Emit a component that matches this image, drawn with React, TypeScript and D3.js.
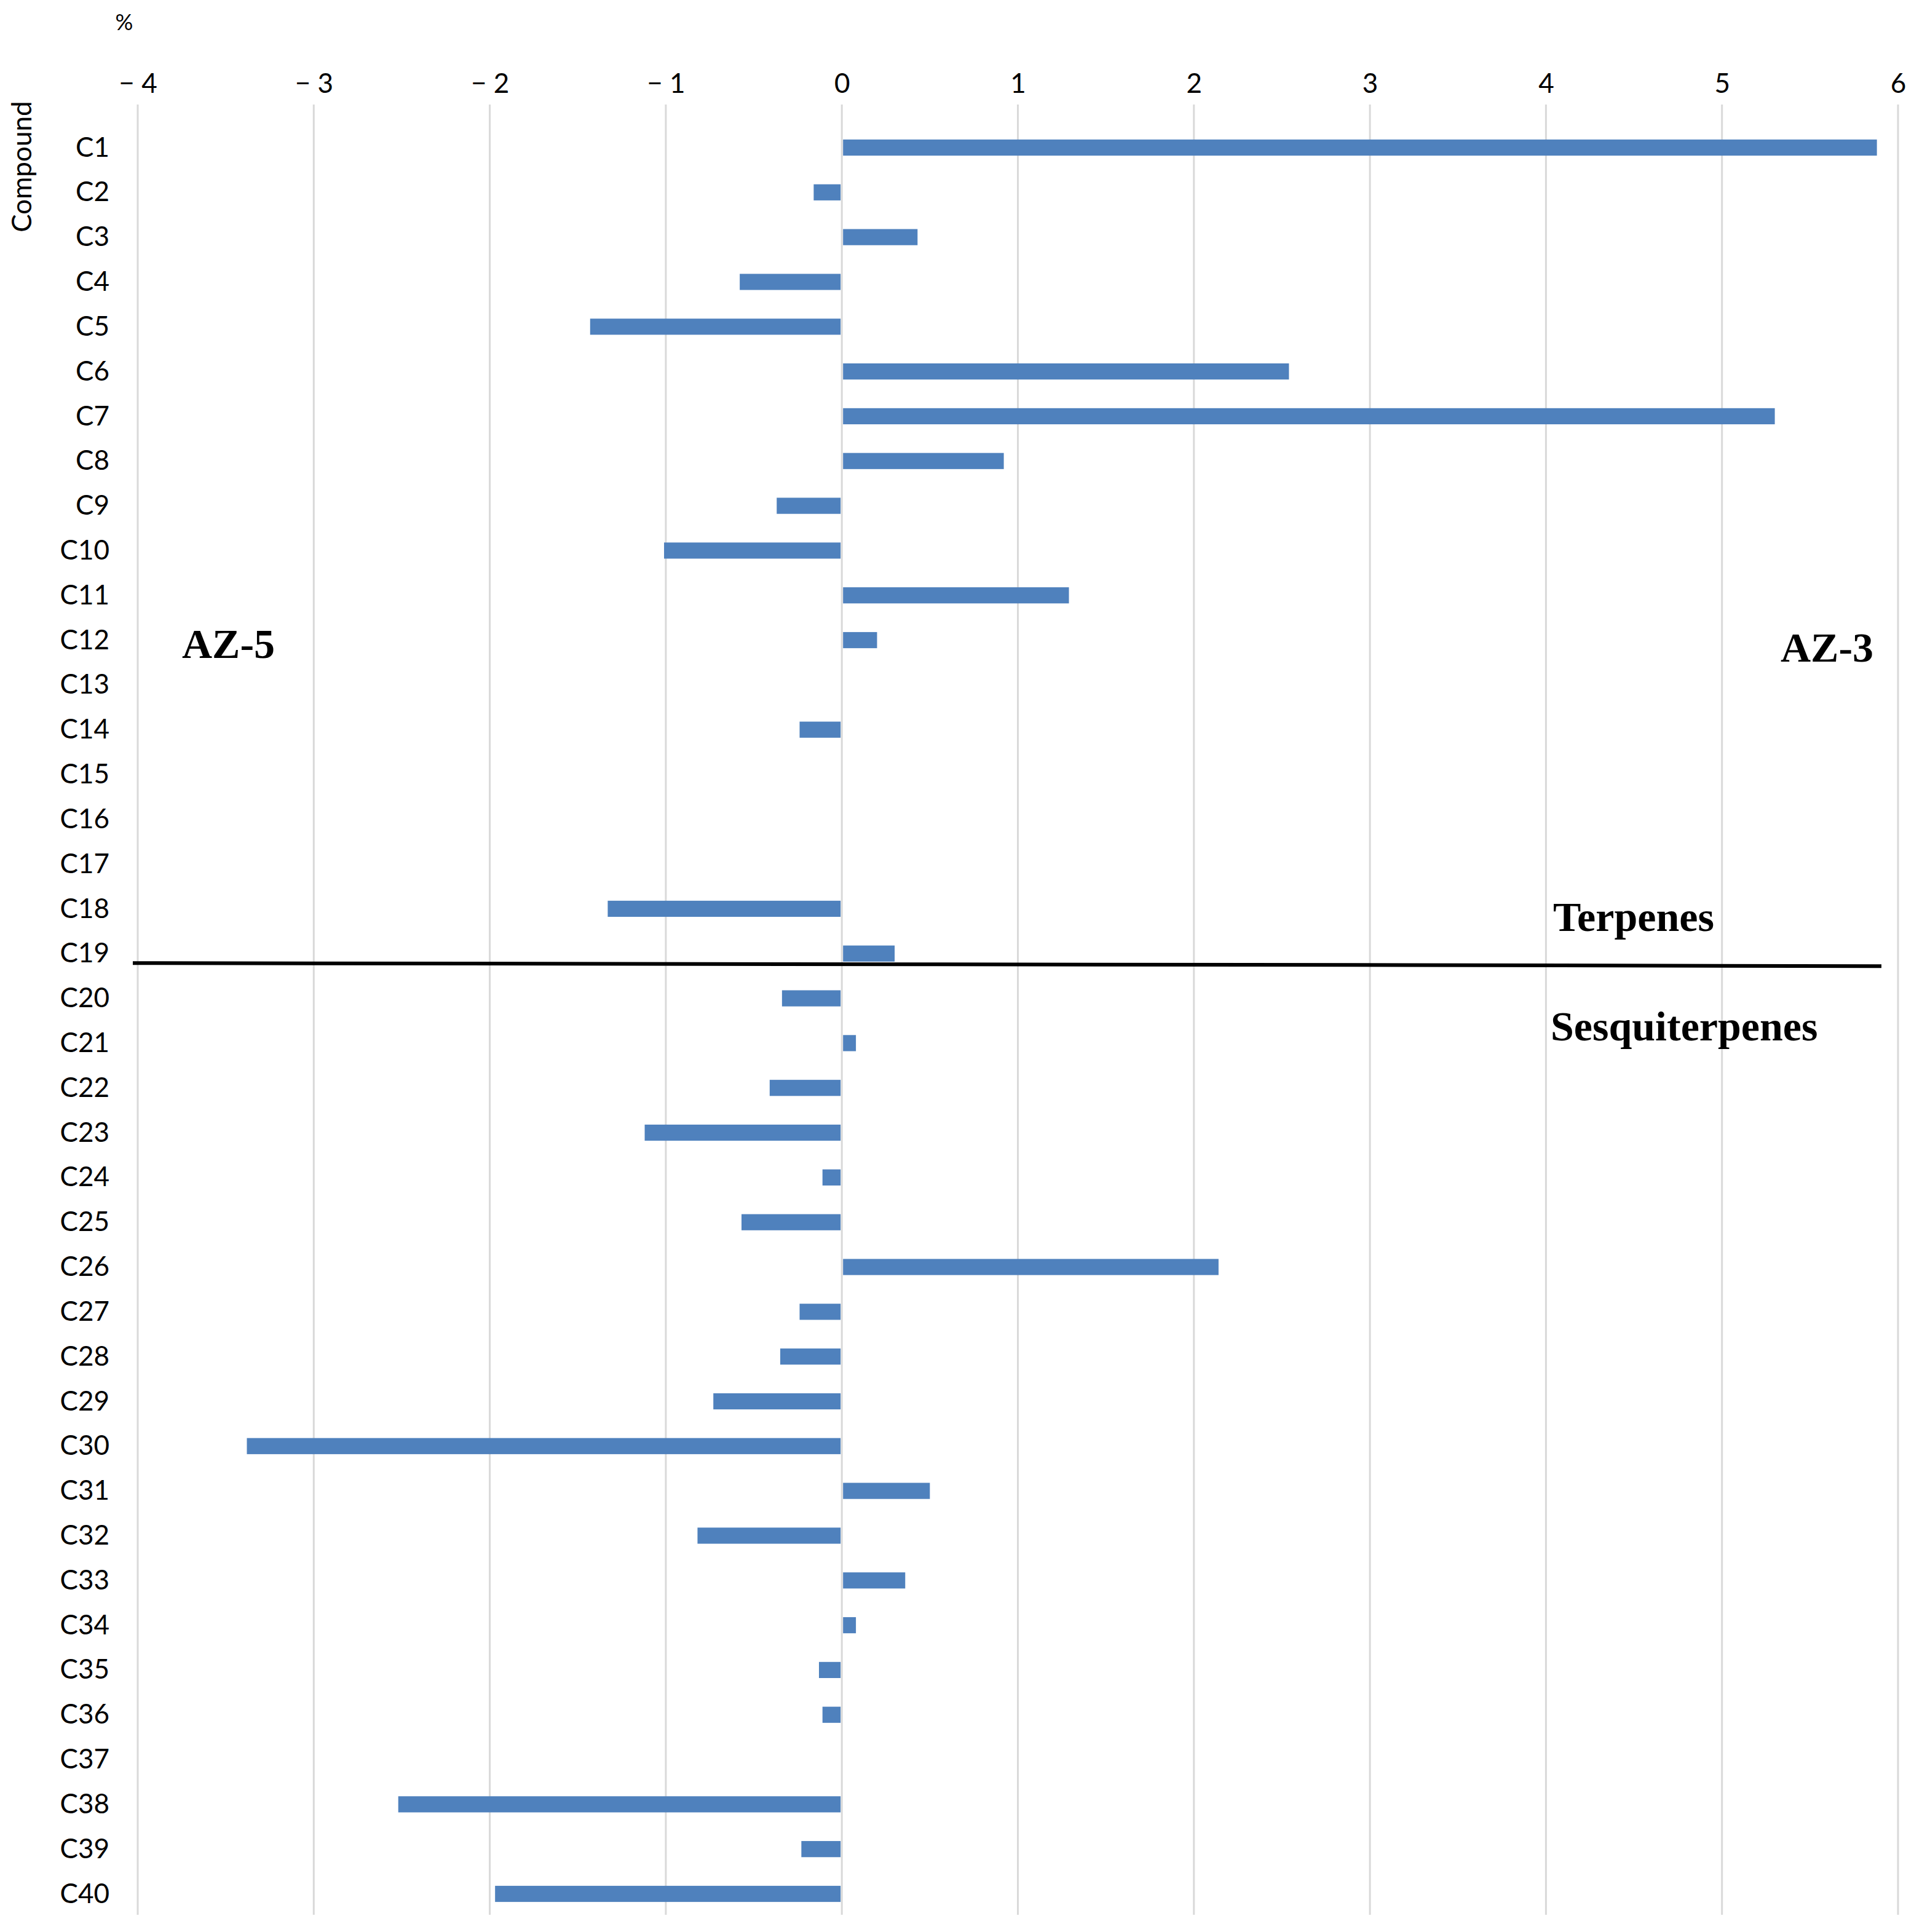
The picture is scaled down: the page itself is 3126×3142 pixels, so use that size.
import { useRef, useEffect } from 'react';
import * as d3 from 'd3';

const compounds = [
  'C1', 'C2', 'C3', 'C4', 'C5', 'C6', 'C7', 'C8', 'C9', 'C10',
  'C11', 'C12', 'C13', 'C14', 'C15', 'C16', 'C17', 'C18', 'C19', 'C20',
  'C21', 'C22', 'C23', 'C24', 'C25', 'C26', 'C27', 'C28', 'C29', 'C30',
  'C31', 'C32', 'C33', 'C34', 'C35', 'C36', 'C37', 'C38', 'C39', 'C40',
];

// difference in % (AZ-3 positive, AZ-5 negative)
const values = [
  5.88, -0.16, 0.43, -0.58, -1.43, 2.54, 5.3, 0.92, -0.37, -1.01,
  1.29, 0.2, 0, -0.24, 0, 0, 0, -1.33, 0.3, -0.34,
  0.08, -0.41, -1.12, -0.11, -0.57, 2.14, -0.24, -0.35, -0.73, -3.38,
  0.5, -0.82, 0.36, 0.08, -0.13, -0.11, 0, -2.52, -0.23, -1.97,
];

const xTicks = [-4, -3, -2, -1, 0, 1, 2, 3, 4, 5, 6];

const W = 3126;
const H = 3142;

const App = () => {
  const ref = useRef(null);

  useEffect(() => {
    const svg = d3.select(ref.current);
    svg.selectAll('*').remove();

    const x = d3.scaleLinear().domain([-4, 6]).range([224, 3087]);
    const y = d3.scalePoint().domain(compounds).range([240, 3080]);
    const barH = y.step() * 0.36;
    const gridTop = 170;
    const gridBottom = 3114;
    const sans = 'Lato, "Noto Sans", sans-serif';

    svg.append('rect').attr('width', W).attr('height', H).attr('fill', '#fff');

    // vertical gridlines
    svg.append('g')
      .selectAll('line')
      .data(xTicks)
      .enter().append('line')
      .attr('x1', d => x(d))
      .attr('x2', d => x(d))
      .attr('y1', gridTop)
      .attr('y2', gridBottom)
      .attr('stroke', '#d9d9d9')
      .attr('stroke-width', 3);

    // top axis labels
    const xAxis = svg.append('g')
      .attr('transform', 'translate(0,136)')
      .call(d3.axisTop(x).tickValues(xTicks).tickSize(0).tickPadding(0)
        .tickFormat(d => (d < 0 ? `\u2212 ${Math.abs(d)}` : `${d}`)));
    xAxis.select('.domain').remove();
    xAxis.selectAll('text')
      .attr('font-family', sans)
      .attr('font-size', 44)
      .attr('fill', '#000')
      .attr('dy', '0.35em');

    // category labels
    const yAxis = svg.append('g')
      .attr('transform', 'translate(178,0)')
      .call(d3.axisLeft(y).tickSize(0).tickPadding(0));
    yAxis.select('.domain').remove();
    yAxis.selectAll('text')
      .attr('font-family', sans)
      .attr('font-size', 44)
      .attr('fill', '#000');

    // bars
    svg.append('g')
      .selectAll('rect')
      .data(compounds.map((c, i) => ({ c, v: values[i] })).filter(d => d.v !== 0))
      .enter().append('rect')
      .attr('x', d => (d.v > 0 ? x(0) + 2 : x(d.v)))
      .attr('y', d => y(d.c) - barH / 2)
      .attr('width', d => Math.abs(x(d.v) - x(0)) - 2)
      .attr('height', barH)
      .attr('fill', '#4f81bd');

    // axis titles
    svg.append('text')
      .attr('x', 202)
      .attr('y', 36)
      .attr('dy', '0.35em')
      .attr('text-anchor', 'middle')
      .attr('font-family', sans)
      .attr('font-size', 36)
      .text('%');

    svg.append('text')
      .attr('transform', 'translate(36,271) rotate(-90)')
      .attr('dy', '0.35em')
      .attr('text-anchor', 'middle')
      .attr('font-family', sans)
      .attr('font-size', 44)
      .text('Compound');

    // separator between terpenes and sesquiterpenes
    const sepY = y('C19') + y.step() * 0.24;
    svg.append('path')
      .attr('d', `M216,${sepY - 2} L1500,${sepY} L2200,${sepY + 1} L3060,${sepY + 3}`)
      .attr('fill', 'none')
      .attr('stroke', '#000')
      .attr('stroke-width', 6);

    const serif = '"Liberation Serif", "DejaVu Serif", serif';
    const notes = [
      { t: 'AZ-5', x: 296, yy: 1070 },
      { t: 'AZ-3', x: 2896, yy: 1076 },
      { t: 'Terpenes', x: 2526, yy: 1514 },
      { t: 'Sesquiterpenes', x: 2522, yy: 1692 },
    ];
    svg.append('g')
      .selectAll('text')
      .data(notes)
      .enter().append('text')
      .attr('x', d => d.x)
      .attr('y', d => d.yy)
      .attr('font-family', serif)
      .attr('font-weight', 'bold')
      .attr('font-size', 68)
      .attr('fill', '#000')
      .text(d => d.t);
  }, []);

  return (
    <svg
      ref={ref}
      width={W}
      height={H}
      style={{ position: 'absolute', left: 0, top: 0, display: 'block' }}
    />
  );
};

export default App;
